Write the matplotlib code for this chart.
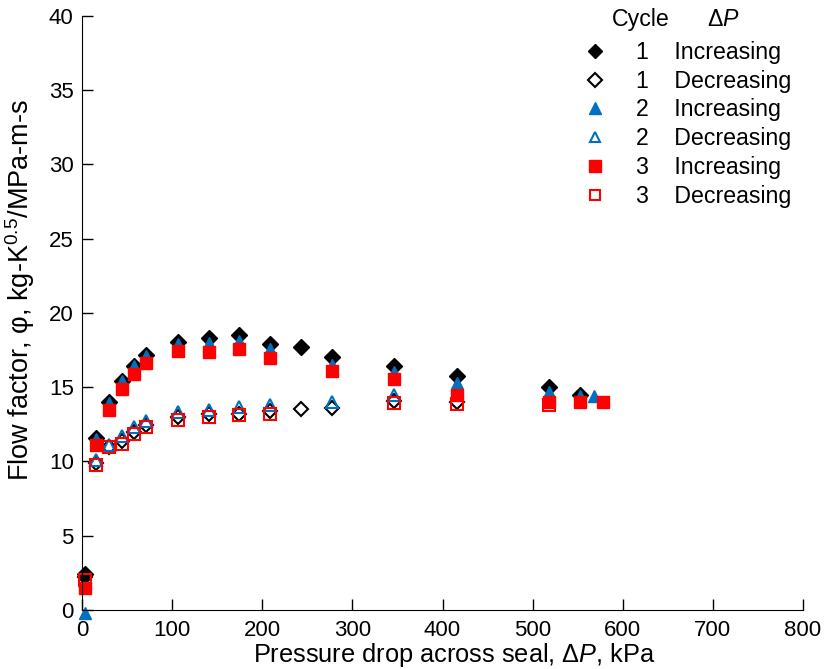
import numpy as np
import matplotlib.pyplot as plt

plt.rcParams['font.family'] = ['Liberation Sans', 'DejaVu Sans']
plt.rcParams['mathtext.fontset'] = 'custom'
plt.rcParams['mathtext.rm'] = 'Liberation Sans'
plt.rcParams['mathtext.it'] = 'Liberation Sans:italic'

# --- data (kPa, flow factor) ---
c1_inc_x = [3, 16, 30, 44, 58, 71, 106, 141, 174, 209, 243, 277, 346, 416, 518, 553]
c1_inc_y = [2.4, 11.6, 14.0, 15.45, 16.45, 17.15, 18.05, 18.3, 18.5, 17.9, 17.7, 17.05, 16.4, 15.75, 15.0, 14.5]
c1_dec_x = [3, 16, 30, 44, 58, 71, 106, 141, 174, 209, 243, 277, 346, 416]
c1_dec_y = [2.2, 9.9, 11.0, 11.4, 12.0, 12.45, 13.0, 13.2, 13.2, 13.4, 13.55, 13.6, 14.1, 14.0]
c2_inc_x = [3, 16, 30, 44, 58, 71, 106, 141, 174, 209, 277, 346, 416, 518, 553, 568]
c2_inc_y = [-0.2, 11.5, 13.95, 15.4, 16.4, 17.1, 17.9, 18.0, 18.1, 17.6, 16.5, 16.0, 15.3, 14.7, 14.4, 14.4]
c2_dec_x = [16, 30, 44, 58, 71, 106, 141, 174, 209, 277, 346]
c2_dec_y = [10.1, 11.1, 11.7, 12.3, 12.7, 13.35, 13.5, 13.7, 13.8, 14.0, 14.5]
c3_inc_x = [3, 16, 30, 44, 58, 71, 106, 141, 174, 209, 277, 346, 416, 518, 553, 578]
c3_inc_y = [1.5, 11.1, 13.5, 14.9, 15.9, 16.6, 17.45, 17.4, 17.6, 17.0, 16.1, 15.55, 14.5, 14.0, 14.0, 14.0]
c3_dec_x = [3, 16, 30, 44, 58, 71, 106, 141, 174, 209, 346, 416, 518]
c3_dec_y = [2.0, 9.75, 10.95, 11.2, 11.85, 12.3, 12.8, 13.0, 13.1, 13.2, 13.95, 13.9, 13.8]

blue = '#0070C0'
red = '#FF0000'

fig = plt.figure(figsize=(8.26, 6.69), dpi=100)
ax = fig.add_axes([0.0993, 0.0882, 0.8729, 0.8879])

ax.plot(c1_inc_x, c1_inc_y, 'D', color='black', ms=8, ls='none', label='1    Increasing', clip_on=False)
ax.plot(c1_dec_x, c1_dec_y, 'D', mfc='none', mec='black', mew=1.5, ms=7.5, ls='none', label='1    Decreasing', clip_on=False)
ax.plot(c2_inc_x, c2_inc_y, '^', color=blue, ms=9, ls='none', label='2    Increasing', clip_on=False)
ax.plot(c2_dec_x, c2_dec_y, '^', mfc='none', mec=blue, mew=1.5, ms=8.5, ls='none', label='2    Decreasing', clip_on=False)
ax.plot(c3_inc_x, c3_inc_y, 's', color=red, ms=9, ls='none', label='3    Increasing', clip_on=False)
ax.plot(c3_dec_x, c3_dec_y, 's', mfc='none', mec=red, mew=1.5, ms=8.5, ls='none', label='3    Decreasing', clip_on=False)

ax.set_xlim(0, 800)
ax.set_ylim(0, 40)
ax.set_xticks(np.arange(0, 801, 100))
ax.set_yticks(np.arange(0, 41, 5))
ax.spines['top'].set_visible(False)
ax.spines['right'].set_visible(False)
ax.tick_params(direction='in', length=8, width=1, labelsize=16)
ax.tick_params(axis='x', pad=7)
ax.tick_params(axis='y', pad=6)

ax.set_xlabel(r'Pressure drop across seal, $\Delta P$, kPa', fontsize=18.3)
ax.set_ylabel('Flow factor, \u03c6, kg-K$^{0.5}$/MPa-m-s', fontsize=19.5)
ax.xaxis.set_label_coords(0.516, -0.052)
ax.yaxis.set_label_coords(-0.062, 0.538)

leg = ax.legend(loc='upper left', bbox_to_anchor=(0.6505, 0.9933), frameon=False,
                fontsize=16.7, handletextpad=0.75, labelspacing=0.25,
                handlelength=2.0, markerscale=0.9)
# legend header
ax.text(0.775, 0.9933, 'Cycle', transform=ax.transAxes, fontsize=16.7, ha='center', va='center')
ax.text(0.889, 0.9933, r'$\Delta P$', transform=ax.transAxes, fontsize=16.7, ha='center', va='center')

fig.savefig('out.png', dpi=100)
